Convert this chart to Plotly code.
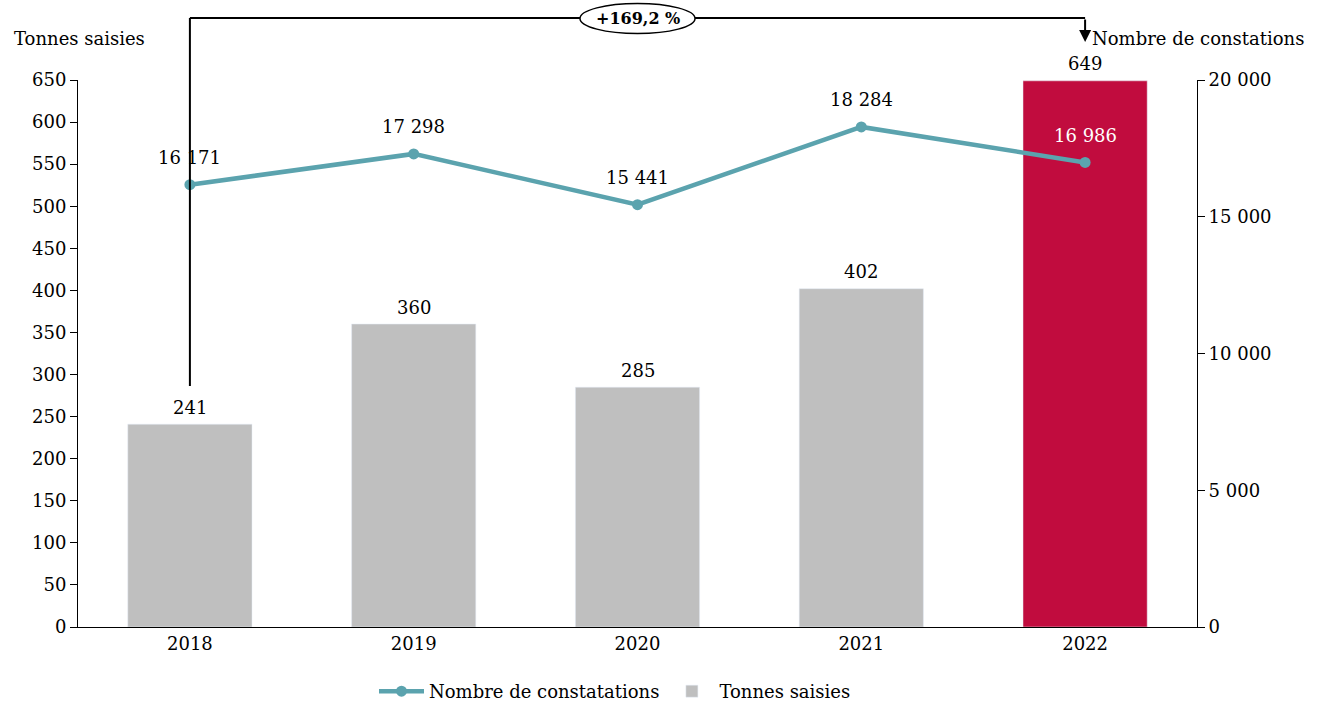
import plotly.graph_objects as go

years = ["2018", "2019", "2020", "2021", "2022"]
tonnes = [241, 360, 285, 402, 649]
constatations = [16171, 17298, 15441, 18284, 16986]
bar_colors = ["#BFBFBF", "#BFBFBF", "#BFBFBF", "#BFBFBF", "#C10C3E"]
line_label_colors = ["black", "black", "black", "black", "white"]
left_ticks = list(range(0, 651, 50))
right_ticks = [0, 5000, 10000, 15000, 20000]
growth_label = "+169,2 %"

FONT = "DejaVu Serif"
FS = 18

def fmt(v):
    return f"{v:,}".replace(",", " ")

fig = go.Figure()
fig.add_trace(go.Bar(
    x=years, y=tonnes, name="Tonnes saisies", marker=dict(color=bar_colors),
    width=0.555,
))
fig.add_trace(go.Scatter(
    x=years, y=constatations, yaxis="y2", name="Nombre de constatations",
    mode="lines+markers", line=dict(color="#5BA3AE", width=4.5),
    marker=dict(size=11, color="#5BA3AE"), cliponaxis=False,
))

H = 547.0
def py(pix):
    return (627 - pix) / H

top = py(18)
start = py(386)
last = len(years) - 1
mid = last / 2
shapes = [
    dict(type="line", xref="x", yref="paper", x0=0, x1=0, y0=start, y1=top, line=dict(color="black", width=2)),
    dict(type="line", xref="x", yref="paper", x0=0, x1=last, y0=top, y1=top, line=dict(color="black", width=2)),
    dict(type="circle", xref="x", yref="paper", x0=mid - 0.257, x1=mid + 0.257, y0=py(33.5), y1=py(3.5),
         fillcolor="white", line=dict(color="black", width=1.5), layer="above"),
]
annotations = [
    dict(x=last, y=py(42), xref="x", yref="paper", ax=0, ay=-24, axref="pixel", ayref="pixel",
         text="", showarrow=True, arrowhead=2, arrowsize=1.2, arrowwidth=2, arrowcolor="black"),
    dict(x=mid, y=py(18.5), xref="x", yref="paper", xanchor="center", yanchor="middle",
         text="<b>" + growth_label + "</b>", showarrow=False,
         font=dict(family=FONT, size=16, color="black")),
    dict(x=(12 - 78) / 1119, y=py(38), xref="paper", yref="paper", xanchor="left", yanchor="middle",
         text="Tonnes saisies", showarrow=False, font=dict(family=FONT, size=FS, color="black")),
    dict(x=(1090 - 78) / 1119, y=py(38), xref="paper", yref="paper", xanchor="left", yanchor="middle",
         text="Nombre de constations", showarrow=False, font=dict(family=FONT, size=FS, color="black")),
]
for i, (v, c) in enumerate(zip(constatations, line_label_colors)):
    annotations.append(dict(x=i, y=v, xref="x", yref="y2", text=fmt(v), showarrow=False,
                            yanchor="middle", yshift=27, font=dict(family=FONT, size=FS, color=c)))
for i, v in enumerate(tonnes):
    annotations.append(dict(x=i, y=v, xref="x", yref="y", text=str(v), showarrow=False,
                            yanchor="middle", yshift=17, font=dict(family=FONT, size=FS, color="black")))

axfont = dict(family=FONT, size=FS, color="black")
fig.update_layout(
    width=1317, height=715, margin=dict(l=78, r=120, t=80, b=88, autoexpand=False),
    paper_bgcolor="white", plot_bgcolor="white",
    font=dict(family=FONT, size=FS, color="black"),
    separators=", ",
    showlegend=True,
    legend=dict(orientation="h", x=(615 - 78) / 1119, xanchor="center", y=py(673), yanchor="top",
                font=dict(family=FONT, size=FS), traceorder="reversed", itemwidth=45),
    xaxis=dict(type="category", range=[-0.5, last + 0.5], showline=True, linecolor="black", linewidth=1,
               ticks="", tickfont=axfont, automargin=False),
    yaxis=dict(range=[0, 650], tickvals=left_ticks, showline=True, linecolor="black", linewidth=1,
               ticks="outside", ticklen=7, tickcolor="black", showgrid=False, zeroline=False,
               tickfont=axfont, automargin=False),
    yaxis2=dict(range=[0, 20000], tickvals=right_ticks, ticktext=[fmt(v) for v in right_ticks],
                overlaying="y", side="right", showline=True, linecolor="black", linewidth=1,
                ticks="outside", ticklen=7, tickcolor="black", showgrid=False, zeroline=False,
                tickfont=axfont, automargin=False),
    shapes=shapes, annotations=annotations,
)
fig.write_html("out.html", config={"displayModeBar": False},
               post_script="document.body.style.margin='0';")
